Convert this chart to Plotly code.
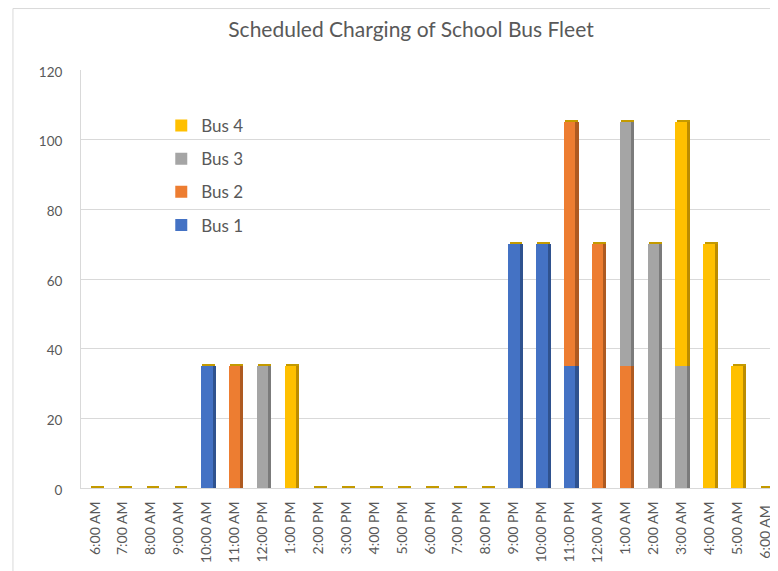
import plotly.graph_objects as go

categories = ["6:00 AM", "7:00 AM", "8:00 AM", "9:00 AM", "10:00 AM", "11:00 AM",
              "12:00 PM", "1:00 PM", "2:00 PM", "3:00 PM", "4:00 PM", "5:00 PM",
              "6:00 PM", "7:00 PM", "8:00 PM", "9:00 PM", "10:00 PM", "11:00 PM",
              "12:00 AM", "1:00 AM", "2:00 AM", "3:00 AM", "4:00 AM", "5:00 AM",
              "6:00 AM "]
bus1 = [0, 0, 0, 0, 35, 0, 0, 0, 0, 0, 0, 0, 0, 0, 0, 70, 70, 35, 0, 0, 0, 0, 0, 0, 0]
bus2 = [0, 0, 0, 0, 0, 35, 0, 0, 0, 0, 0, 0, 0, 0, 0, 0, 0, 70, 70, 35, 0, 0, 0, 0, 0]
bus3 = [0, 0, 0, 0, 0, 0, 35, 0, 0, 0, 0, 0, 0, 0, 0, 0, 0, 0, 0, 70, 70, 35, 0, 0, 0]
bus4 = [0, 0, 0, 0, 0, 0, 0, 35, 0, 0, 0, 0, 0, 0, 0, 0, 0, 0, 0, 0, 0, 70, 70, 35, 0]
y_ticks = [0, 20, 40, 60, 80, 100, 120]

series = [("Bus 1", bus1, "#4472C4", "#2F528F", 4),
          ("Bus 2", bus2, "#ED7D31", "#AE5A21", 3),
          ("Bus 3", bus3, "#A5A5A5", "#7B7B7B", 2),
          ("Bus 4", bus4, "#FFC000", "#BC8C00", 1)]

totals = [sum(v) for v in zip(bus1, bus2, bus3, bus4)]

fig = go.Figure()
for name, vals, col, dark, rank in series:
    fig.add_trace(go.Bar(x=categories, y=vals, name=name, marker_color=col,
                         marker_line_width=0, width=0.42, offset=-0.21,
                         legendrank=rank, legendgroup=name, xaxis="x", yaxis="y"))
for name, vals, col, dark, rank in series:
    fig.add_trace(go.Bar(x=categories, y=vals, marker_color=dark, marker_line_width=0,
                         width=0.11, offset=0.21, showlegend=False,
                         hoverinfo="skip", xaxis="x2", yaxis="y"))
fig.add_trace(go.Bar(x=categories, y=[0.7] * len(categories), base=totals,
                     marker_color="#C49A00", marker_line_width=0,
                     width=0.46, offset=-0.15, showlegend=False,
                     hoverinfo="skip", xaxis="x3", yaxis="y"))

axis_common = dict(type="category", range=[-0.5, 24.5], domain=[0, 1])
fig.update_layout(
    width=778, height=571,
    margin=dict(l=73, r=7, t=62, b=91),
    paper_bgcolor="white", plot_bgcolor="white",
    barmode="stack",
    font=dict(family="Lato, 'Open Sans', sans-serif", color="#595959"),
    title=dict(text="Scheduled Charging of School Bus Fleet", x=0.518, xref="container",
               xanchor="center", y=0.9615, yanchor="middle",
               font=dict(size=21, color="#595959")),
    xaxis=dict(**axis_common, tickangle=-90, tickfont=dict(size=14, color="#595959"),
               showgrid=False, showline=True, linecolor="#D9D9D9", linewidth=1,
               ticks="outside", ticklen=7, tickcolor="rgba(0,0,0,0)"),
    xaxis2=dict(**axis_common, overlaying="x", visible=False),
    xaxis3=dict(**axis_common, overlaying="x", visible=False),
    yaxis=dict(range=[0, 120], tickvals=y_ticks,
               tickfont=dict(size=13.5, color="#595959"),
               showgrid=True, gridcolor="#D9D9D9", gridwidth=1,
               showline=True, linecolor="#D9D9D9", linewidth=1,
               zeroline=False, ticklabelshift=2,
               ticks="outside", ticklen=15, tickcolor="rgba(0,0,0,0)"),
    legend=dict(x=0.115, y=0.909, xanchor="left", yanchor="top",
                traceorder="grouped", tracegroupgap=8,
                bgcolor="rgba(0,0,0,0)", font=dict(size=17, color="#595959")),
    shapes=[dict(type="path", xref="paper", yref="paper",
                 path="M -0.0975 -0.3 L -0.0975 1.147 L 1.05 1.147",
                 line=dict(color="#D9D9D9", width=1))],
)

fig.write_html("out.html")
